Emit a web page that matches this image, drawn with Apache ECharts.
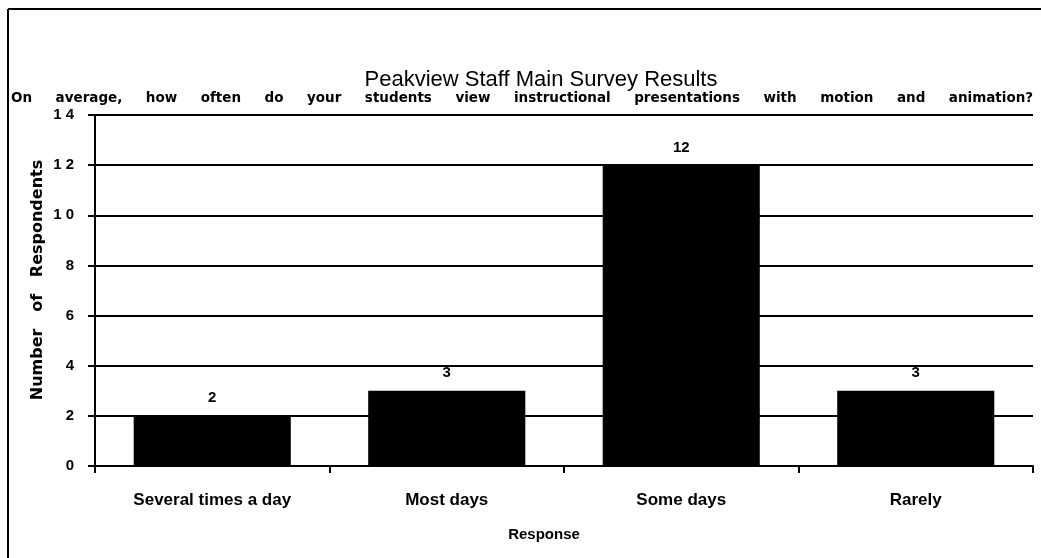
<!DOCTYPE html>
<html>
<head>
<meta charset="utf-8">
<script src="https://cdn.jsdelivr.net/npm/echarts@6/dist/echarts.min.js"></script>
<style>
html,body{margin:0;padding:0;background:#fff;}
#chart{width:1041px;height:558px;}
</style>
</head>
<body>
<div id="chart"></div>
<script>
var categories = ['Several times a day', 'Most days', 'Some days', 'Rarely'];
var respondents = [2, 3, 12, 3];
var yTickLabels = ['0', '2', '4', '6', '8', '1 0', '1 2', '1 4'];
var titleText = 'Peakview Staff Main Survey Results';
var subtitleWords = ['On', 'average,', 'how', 'often', 'do', 'your', 'students', 'view', 'instructional', 'presentations', 'with', 'motion', 'and', 'animation?'];
var yAxisTitle = 'Number   of   Respondents';
var xAxisTitle = 'Response';

var chart = echarts.init(document.getElementById('chart'));
var option = {
  backgroundColor: '#fff',
  animation: false,
  grid: {left: 95, right: 8, top: 115, bottom: 92, containLabel: false},
  graphic: [
    {type: 'line', shape: {x1: 8, y1: 9, x2: 1041, y2: 9}, style: {stroke: '#000', lineWidth: 2}},
    {type: 'line', shape: {x1: 8, y1: 9, x2: 8, y2: 558}, style: {stroke: '#000', lineWidth: 2}},
    {type: 'text', x: 541, y: 80, style: {text: titleText, fill: '#000', font: '22px "Liberation Sans", Arial, sans-serif', textAlign: 'center', textVerticalAlign: 'middle'}},
    {type: 'text', x: 11, y: 98, style: {text: subtitleWords.join('     '), fill: '#000', font: 'bold 13.5px "DejaVu Sans", sans-serif', textAlign: 'left', textVerticalAlign: 'middle'}},
    {type: 'text', x: 38, y: 280, rotation: Math.PI / 2, style: {text: yAxisTitle, fill: '#000', font: 'bold 16px "DejaVu Sans", sans-serif', textAlign: 'center', textVerticalAlign: 'middle'}},
    {type: 'text', x: 544, y: 535, style: {text: xAxisTitle, fill: '#000', font: 'bold 15px "Liberation Sans", Arial, sans-serif', textAlign: 'center', textVerticalAlign: 'middle'}}
  ],
  xAxis: {
    type: 'category',
    data: categories,
    axisLine: {lineStyle: {color: '#000', width: 2}},
    axisTick: {show: true, length: 7, lineStyle: {color: '#000', width: 2}},
    axisLabel: {color: '#000', fontSize: 17, fontWeight: 'bold', fontFamily: '"Liberation Sans", Arial, sans-serif', margin: 26},
    splitLine: {show: false}
  },
  yAxis: {
    type: 'value',
    min: 0, max: 14, interval: 2,
    axisLine: {show: true, lineStyle: {color: '#000', width: 2}},
    axisTick: {show: true, length: 7, lineStyle: {color: '#000', width: 2}},
    axisLabel: {color: '#000', fontSize: 15, fontWeight: 'bold', fontFamily: '"Liberation Sans", Arial, sans-serif', margin: 21,
      formatter: function (v) { return yTickLabels[Math.round(v / 2)]; }},
    splitLine: {show: true, lineStyle: {color: '#000', width: 2}}
  },
  series: [{
    type: 'bar',
    data: respondents,
    barWidth: '67%',
    itemStyle: {color: '#000'},
    label: {show: true, position: 'top', distance: 10, color: '#000', fontSize: 15, fontWeight: 'bold', fontFamily: '"Liberation Sans", Arial, sans-serif'}
  }]
};
chart.setOption(option);
</script>
</body>
</html>
